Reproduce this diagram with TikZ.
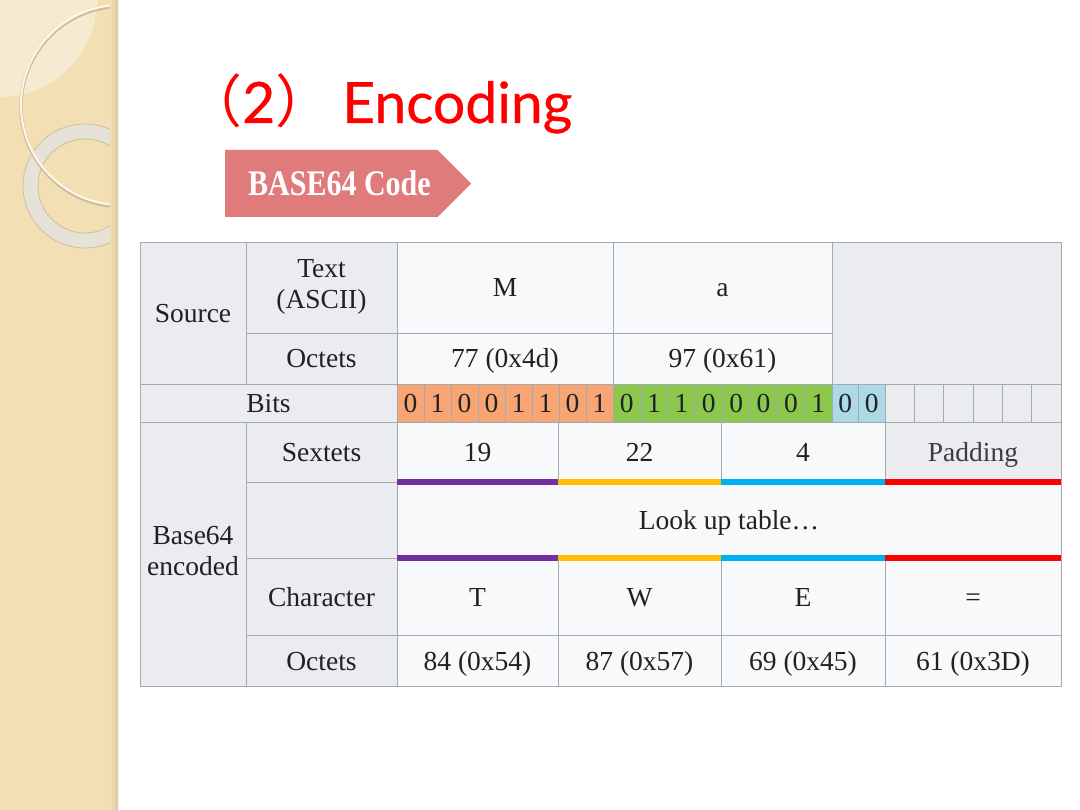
\documentclass[tikz,border=0pt]{standalone}
\usepackage{fontspec}
\setmainfont{Liberation Serif}
\newfontfamily\titlefont[FakeBold=0.5]{Lato}
\newfontfamily\cjk{Noto Sans CJK SC}
\usetikzlibrary{shapes.symbols}

\definecolor{strip}{HTML}{F2DFB3}
\definecolor{striplight}{HTML}{F6EAD0}
\definecolor{stripedge}{HTML}{D9C7A0}
\definecolor{ringgray}{HTML}{E6E2D8}
\definecolor{ringedge}{HTML}{CDBF9E}
\definecolor{ringcream}{HTML}{FDF8EA}
\definecolor{titlered}{HTML}{FF0000}
\definecolor{bannerfill}{HTML}{E07B7C}
\definecolor{headfill}{HTML}{EAECF0}
\definecolor{datafill}{HTML}{F8F9FA}
\definecolor{border}{HTML}{A2A9B1}
\definecolor{ink}{HTML}{202122}
\definecolor{padink}{HTML}{3C3C3C}
\definecolor{bitorange}{HTML}{F7A673}
\definecolor{bitgreen}{HTML}{8CC84E}
\definecolor{bitblue}{HTML}{ADD8E6}
\definecolor{barpurple}{HTML}{7030A0}
\definecolor{bargold}{HTML}{FFC000}
\definecolor{barcyan}{HTML}{00B0F0}
\definecolor{barred}{HTML}{FF0000}

\newcommand{\cellstrut}{\rule[-7pt]{0pt}{33pt}}

\begin{document}
\begin{tikzpicture}
	[x=1pt,y=-1pt,]
	\tikzstyle{cell}=[draw=border, line width=0.8pt, fill=datafill, anchor=north west, inner sep=0pt, outer sep=0pt, text=ink, align=center, font=\fontsize{27.5}{31}\selectfont, execute at begin node=\cellstrut, execute at end node=\cellstrut]
	\tikzstyle{head}=[cell, fill=headfill]
	\tikzstyle{bit}=[cell, minimum height=38pt]
	\tikzstyle{bar}=[line width=6pt]

	\useasboundingbox (0,0) rectangle (1080,810);
	\fill[white] (0,0) rectangle (1080,810);

	\begin{scope}
		\clip (0,0) rectangle (118,810);
		\fill[strip] (0,0) rectangle (118,810);
		\fill[striplight] (0,0) -- (97,0) arc[start angle=0, end angle=90, radius=97] -- cycle;
		\draw[ringgray, line width=15pt] (85,186) circle[radius=54.5];
		\draw[ringedge, line width=0.8pt] (85,186) circle[radius=62] (85,186) circle[radius=47];
		\draw[ringedge, line width=3.5pt] (121,106.5) circle[radius=100];
		\draw[ringcream, line width=2pt] (121,105) circle[radius=100];
		\fill[left color=strip, right color=stripedge] (110,0) rectangle (118,810);
	\end{scope}

	\node[anchor=base west, inner sep=0pt, text=titlered, font=\titlefont\fontsize{57}{62}\selectfont] (title) at (185,123) {{\cjk （}2{\cjk ）}\hspace{10pt}Encoding};
	\node[signal, signal to=east, signal pointer angle=90, fill=bannerfill, text=white, font=\bfseries\fontsize{30}{34}\selectfont, minimum height=67pt, inner xsep=7pt, inner ysep=0pt, anchor=west] (tag) at (225,183.5) {\hspace{16pt}\scalebox{1}[1.2]{BASE64 Code}};

	\node[head, minimum width=106pt, minimum height=142pt] (src) at (140,242) {Source};
	\node[head, minimum width=151pt, minimum height=91pt] (txthead) at (246,242) {Text\\(ASCII)};
	\node[cell, minimum width=216pt, minimum height=91pt] (txtM) at (397,242) {M};
	\node[cell, minimum width=219pt, minimum height=91pt] (txta) at (613,242) {a};
	\node[head, minimum width=229pt, minimum height=142pt] (blank) at (832,242) {};
	\node[head, minimum width=151pt, minimum height=51pt] (octhead) at (246,333) {Octets};
	\node[cell, minimum width=216pt, minimum height=51pt] (octM) at (397,333) {77 (0x4d)};
	\node[cell, minimum width=219pt, minimum height=51pt] (octa) at (613,333) {97 (0x61)};

	\node[head, minimum width=257pt, minimum height=38pt] (bithead) at (140,384) {Bits};
	\foreach \b [count=\i from 0] in {0,1,0,0,1,1,0,1}
		\node[bit, fill=bitorange, minimum width=27pt] (bo\i) at (397+27*\i,384) {\b};
	\foreach \b [count=\i from 0] in {0,1,1,0,0,0,0,1}
		\node[bit, fill=bitgreen, minimum width=27.375pt] (bg\i) at (613+27.375*\i,384) {\b};
	\foreach \b [count=\i from 0] in {0,0}
		\node[bit, fill=bitblue, minimum width=26.5pt] (bb\i) at (832+26.5*\i,384) {\b};
	\foreach \i in {0,...,5}
		\node[bit, fill=headfill, minimum width=29.33pt] (bx\i) at (885+29.33*\i,384) {};

	\node[head, minimum width=106pt, minimum height=264pt] (b64) at (140,422) {Base64\\encoded};
	\node[head, minimum width=151pt, minimum height=60pt] (sexhead) at (246,422) {Sextets};
	\node[cell, minimum width=161pt, minimum height=60pt] (sx1) at (397,422) {19};
	\node[cell, minimum width=163pt, minimum height=60pt] (sx2) at (558,422) {22};
	\node[cell, minimum width=164pt, minimum height=60pt] (sx3) at (721,422) {4};
	\node[head, minimum width=176pt, minimum height=60pt, text=padink] (sx4) at (885,422) {Padding};
	\node[head, minimum width=151pt, minimum height=76pt] (lookhead) at (246,482) {};
	\node[cell, minimum width=664pt, minimum height=76pt] (look) at (397,482) {Look up table…};
	\node[head, minimum width=151pt, minimum height=77pt] (chrhead) at (246,558) {Character};
	\node[head, minimum width=151pt, minimum height=51pt] (oct2head) at (246,635) {Octets};
	\foreach \x/\w/\c/\o [count=\i] in {397/161/T/84 (0x54),558/163/W/87 (0x57),721/164/E/69 (0x45),885/176/=/61 (0x3D)}
	{
		\node[cell, minimum width=\w pt, minimum height=77pt] (ch\i) at (\x,558) {\c};
		\node[cell, minimum width=\w pt, minimum height=51pt] (oc\i) at (\x,635) {\o};
	}

	\foreach \i/\c in {1/barpurple,2/bargold,3/barcyan,4/barred}
	{
		\draw[bar, \c] (sx\i.south west) -- (sx\i.south east);
		\draw[bar, \c] (ch\i.north west) -- (ch\i.north east);
	}

\end{tikzpicture}
\end{document}
